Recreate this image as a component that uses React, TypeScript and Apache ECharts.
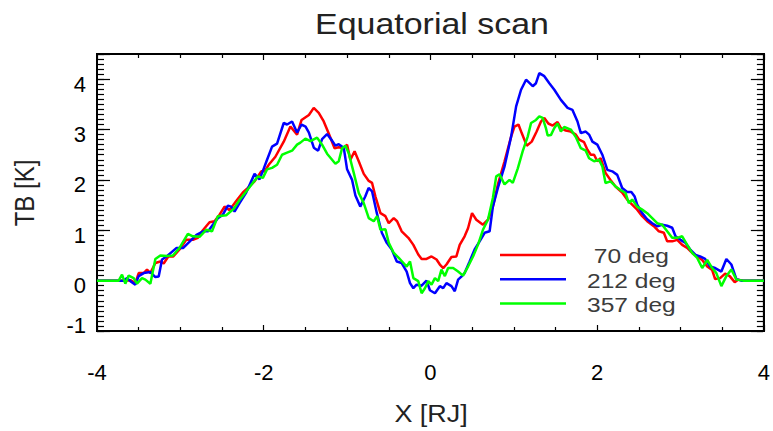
import React, { useEffect, useRef } from 'react';
import * as echarts from 'echarts';

// Brightness temperature along the equatorial scan, [X in RJ, TB in K]
const scan70: number[][] = [
  [-4, 0], [-3.72, 0], [-3.6, 0.01], [-3.54, -0.05], [-3.5, 0.15], [-3.44, 0.15], [-3.4, 0.22], [-3.36, 0.15],
  [-3.3, 0.35], [-3.24, 0.38], [-3.2, 0.34], [-3.145, 0.48], [-3.085, 0.48], [-3.01, 0.62], [-2.93, 0.81],
  [-2.85, 0.81], [-2.79, 0.85], [-2.73, 1.0], [-2.65, 1.16], [-2.59, 1.18], [-2.53, 1.31], [-2.47, 1.47],
  [-2.41, 1.4], [-2.33, 1.58], [-2.25, 1.75], [-2.19, 1.84], [-2.11, 1.97], [-2.03, 2.17], [-1.99, 2.17],
  [-1.94, 2.3], [-1.86, 2.46], [-1.76, 2.76], [-1.68, 3.06], [-1.6, 2.9], [-1.546, 3.19], [-1.458, 3.29],
  [-1.4, 3.43], [-1.34, 3.33], [-1.28, 3.16], [-1.22, 2.92], [-1.15, 2.63], [-1.1, 2.65], [-1.04, 2.63],
  [-1.0, 2.7], [-0.96, 2.4], [-0.91, 2.57], [-0.86, 2.37], [-0.8, 2.12], [-0.74, 1.98], [-0.7, 1.94],
  [-0.66, 1.67], [-0.6, 1.34], [-0.54, 1.28], [-0.5, 1.14], [-0.44, 1.24], [-0.4, 1.18], [-0.345, 0.98],
  [-0.265, 0.85], [-0.205, 0.71], [-0.146, 0.52], [-0.106, 0.43], [-0.047, 0.43], [0.013, 0.48], [0.073, 0.42],
  [0.113, 0.32], [0.153, 0.25], [0.192, 0.32], [0.252, 0.47], [0.311, 0.48], [0.351, 0.71], [0.41, 0.88],
  [0.451, 1.04], [0.499, 1.34], [0.55, 1.21], [0.63, 1.11], [0.69, 1.21], [0.749, 1.47], [0.809, 1.91],
  [0.889, 2.37], [0.968, 2.86], [1.008, 3.06], [1.056, 3.1], [1.095, 2.93], [1.155, 2.68], [1.215, 2.76],
  [1.274, 2.96], [1.326, 3.16], [1.366, 3.23], [1.414, 3.12], [1.466, 3.08], [1.525, 3.15], [1.565, 3.03],
  [1.624, 2.98], [1.684, 2.96], [1.744, 2.9], [1.784, 2.8], [1.843, 2.75], [1.883, 2.6], [1.923, 2.5],
  [1.963, 2.5], [2.002, 2.37], [2.042, 2.43], [2.1, 2.14], [2.16, 2.0], [2.22, 1.87], [2.3, 1.75], [2.36, 1.61],
  [2.42, 1.51], [2.48, 1.41], [2.54, 1.28], [2.6, 1.18], [2.68, 1.08], [2.74, 0.98], [2.8, 0.95], [2.84, 0.78],
  [2.9, 0.78], [2.96, 0.81], [3.02, 0.71], [3.08, 0.65], [3.14, 0.55], [3.2, 0.48], [3.26, 0.41], [3.32, 0.28],
  [3.38, 0.21], [3.415, 0.03], [3.475, 0.05], [3.535, 0.14], [3.59, 0.09], [3.65, -0.03], [3.69, 0.02],
  [3.75, 0], [4, 0],
];

const scan212: number[][] = [
  [-4, 0], [-3.68, 0], [-3.64, 0.05], [-3.6, -0.01], [-3.54, -0.08], [-3.5, 0.09], [-3.44, 0.15], [-3.36, 0.17],
  [-3.3, 0.07], [-3.26, 0.08], [-3.22, 0.42], [-3.165, 0.48], [-3.045, 0.65], [-2.965, 0.65], [-2.886, 0.78],
  [-2.807, 0.91], [-2.727, 0.98], [-2.667, 0.98], [-2.61, 1.11], [-2.55, 1.24], [-2.49, 1.31], [-2.43, 1.49],
  [-2.39, 1.47], [-2.35, 1.37], [-2.29, 1.54], [-2.21, 1.75], [-2.11, 2.12], [-2.05, 2.01], [-2.01, 2.18],
  [-1.96, 2.4], [-1.9, 2.66], [-1.84, 2.72], [-1.76, 3.13], [-1.72, 3.1], [-1.66, 3.16], [-1.6, 2.94],
  [-1.546, 3.1], [-1.498, 3.06], [-1.458, 2.94], [-1.399, 2.64], [-1.347, 2.58], [-1.3, 2.81], [-1.24, 2.91],
  [-1.18, 2.78], [-1.14, 2.68], [-1.1, 2.71], [-1.04, 2.64], [-1.0, 2.21], [-0.94, 2.0], [-0.9, 1.69],
  [-0.842, 1.47], [-0.782, 1.67], [-0.742, 1.84], [-0.7, 1.77], [-0.643, 1.34], [-0.583, 0.95], [-0.524, 0.75],
  [-0.464, 0.62], [-0.404, 0.38], [-0.345, 0.35], [-0.285, 0.18], [-0.245, -0.05], [-0.205, -0.15],
  [-0.166, -0.08], [-0.106, -0.1], [-0.047, 0.0], [-0.006, -0.19], [0.054, -0.25], [0.113, -0.11],
  [0.153, -0.15], [0.192, -0.05], [0.252, -0.11], [0.292, -0.21], [0.332, 0.02], [0.371, 0.08], [0.41, 0.15],
  [0.47, 0.38], [0.53, 0.62], [0.59, 0.78], [0.65, 0.95], [0.71, 0.98], [0.749, 1.47], [0.809, 1.84],
  [0.889, 2.27], [0.968, 2.86], [1.028, 3.46], [1.087, 3.79], [1.147, 3.99], [1.227, 3.86], [1.266, 3.92],
  [1.306, 4.12], [1.366, 4.06], [1.426, 3.92], [1.486, 3.79], [1.565, 3.59], [1.645, 3.43], [1.704, 3.39],
  [1.764, 3.16], [1.804, 2.93], [1.863, 2.96], [1.903, 2.9], [1.943, 2.76], [2.002, 2.7], [2.062, 2.5],
  [2.122, 2.2], [2.181, 2.17], [2.241, 2.1], [2.3, 1.84], [2.36, 1.76], [2.41, 1.76], [2.45, 1.67],
  [2.48, 1.51], [2.54, 1.34], [2.6, 1.22], [2.66, 1.14], [2.72, 1.08], [2.78, 1.11], [2.84, 1.09],
  [2.9, 1.05], [2.94, 0.88], [3.0, 0.81], [3.06, 0.75], [3.12, 0.61], [3.18, 0.51], [3.235, 0.48],
  [3.295, 0.43], [3.355, 0.28], [3.415, 0.25], [3.49, 0.18], [3.55, 0.43], [3.61, 0.32], [3.67, 0.03],
  [3.73, 0], [4, 0],
];

const scan357: number[][] = [
  [-4, 0], [-3.74, 0], [-3.7, 0.12], [-3.66, -0.06], [-3.62, 0.1], [-3.56, 0.05], [-3.52, -0.06], [-3.46, 0.05],
  [-3.42, 0.02], [-3.36, -0.06], [-3.3, 0.43], [-3.24, 0.5], [-3.16, 0.49], [-3.09, 0.5], [-3.01, 0.65],
  [-2.91, 0.93], [-2.85, 0.88], [-2.77, 0.87], [-2.69, 1.01], [-2.62, 0.98], [-2.55, 1.28], [-2.45, 1.3],
  [-2.37, 1.41], [-2.35, 1.45], [-2.29, 1.6], [-2.21, 1.77], [-2.15, 1.9], [-2.07, 2.07], [-2.01, 2.04],
  [-1.96, 2.21], [-1.9, 2.24], [-1.84, 2.3], [-1.78, 2.5], [-1.72, 2.54], [-1.66, 2.58], [-1.6, 2.7],
  [-1.56, 2.74], [-1.5, 2.82], [-1.44, 2.77], [-1.36, 2.84], [-1.3, 2.7], [-1.24, 2.52], [-1.18, 2.4],
  [-1.14, 2.32], [-1.1, 2.37], [-1.06, 2.63], [-1.02, 2.68], [-0.98, 2.53], [-0.92, 2.14], [-0.86, 1.74],
  [-0.8, 1.54], [-0.74, 1.24], [-0.68, 1.18], [-0.64, 1.28], [-0.6, 1.01], [-0.54, 1.02], [-0.5, 0.75],
  [-0.44, 0.55], [-0.38, 0.45], [-0.34, 0.38], [-0.285, 0.28], [-0.245, 0.38], [-0.205, 0.05], [-0.146, -0.01],
  [-0.106, -0.25], [-0.066, -0.15], [-0.026, -0.01], [0.013, -0.08], [0.054, 0.05], [0.093, -0.01],
  [0.132, 0.22], [0.173, 0.09], [0.212, 0.25], [0.272, 0.25], [0.332, 0.18], [0.391, 0.1], [0.451, 0.28],
  [0.511, 0.48], [0.57, 0.71], [0.63, 1.01], [0.69, 1.21], [0.749, 1.64], [0.789, 2.07], [0.829, 2.11],
  [0.889, 1.91], [0.948, 2.0], [0.988, 1.94], [1.048, 2.23], [1.107, 2.57], [1.167, 2.86], [1.207, 3.13],
  [1.266, 3.19], [1.306, 3.26], [1.346, 3.23], [1.385, 3.03], [1.406, 2.88], [1.445, 2.89], [1.486, 3.03],
  [1.525, 3.12], [1.565, 2.96], [1.605, 3.05], [1.684, 3.0], [1.744, 2.85], [1.804, 2.63], [1.863, 2.58],
  [1.903, 2.43], [1.963, 2.37], [2.022, 2.4], [2.062, 2.27], [2.1, 1.94], [2.16, 1.97], [2.22, 1.87],
  [2.28, 1.8], [2.34, 1.74], [2.38, 1.54], [2.42, 1.61], [2.48, 1.47], [2.54, 1.41], [2.6, 1.34], [2.66, 1.24],
  [2.72, 1.14], [2.78, 1.11], [2.84, 0.98], [2.9, 0.85], [2.96, 0.85], [3.02, 0.88], [3.08, 0.71], [3.14, 0.55],
  [3.2, 0.45], [3.26, 0.25], [3.32, 0.41], [3.38, 0.25], [3.43, 0.15], [3.49, -0.11], [3.55, 0.09], [3.61, 0.22],
  [3.67, 0.02], [3.75, 0], [4, 0],
];

const legendNames = [' 70 deg', '212 deg', '357 deg'];
const lineColors = ['#ff0000', '#0000ff', '#00ff00'];
const seriesData = [scan70, scan212, scan357];

const X_MIN = -4;
const X_MAX = 4;
const X_STEP = 2;
const Y_MIN = -1;
const Y_MAX = 4.5;
const Y_STEP = 1;

const FONT = 'Liberation Sans';
const STRETCH = 1.17;

function buildOption() {
  const grid = {
    left: 97,
    right: 6,
    top: 54,
    bottom: 100,
    show: true,
    borderColor: '#000',
    borderWidth: 2,
    backgroundColor: 'transparent',
  };
  const tickStyle = { color: '#000', width: 1.2 };
  const axisLineStyle = { color: '#000', width: 2 };

  const xBase = {
    type: 'value' as const,
    min: X_MIN,
    max: X_MAX,
    interval: X_STEP,
    splitLine: { show: false },
    axisLine: { show: true, onZero: false, lineStyle: axisLineStyle },
    axisTick: { show: true, inside: true, length: 6, lineStyle: tickStyle },
    minorTick: { show: true, splitNumber: 4, length: 4, lineStyle: tickStyle },
  };

  const yMajor = {
    type: 'value' as const,
    min: Y_MIN,
    max: Y_MAX,
    interval: Y_STEP,
    splitLine: { show: false },
    axisLine: { show: true, onZero: false, lineStyle: axisLineStyle },
    axisTick: { show: true, inside: true, length: 13, lineStyle: tickStyle },
  };

  const yMinor = {
    type: 'value' as const,
    min: Y_MIN,
    max: Y_MAX,
    interval: 0.1,
    splitLine: { show: false },
    axisLine: { show: false, onZero: false },
    axisLabel: { show: false },
    axisTick: { show: true, inside: true, length: 7, lineStyle: tickStyle },
  };

  const legendGraphics: any[] = [];
  legendNames.forEach((name, i) => {
    const y = 255 + i * 24.3;
    legendGraphics.push({
      type: 'line',
      shape: { x1: 500, y1: y, x2: 566, y2: y },
      style: { stroke: lineColors[i], lineWidth: 2.5 },
      z: 10,
    });
    legendGraphics.push({
      type: 'text',
      x: 587,
      y: y + 1,
      scaleX: STRETCH,
      style: {
        text: name,
        fontFamily: FONT,
        fontSize: 21,
        fill: '#3c3c3c',
        align: 'left',
        verticalAlign: 'middle',
      },
      z: 10,
    });
  });

  return {
    animation: false,
    backgroundColor: '#ffffff',
    grid,
    xAxis: [
      {
        ...xBase,
        position: 'bottom',
        axisLabel: {
          show: true,
          margin: 30,
          fontFamily: FONT,
          fontSize: 22,
          color: '#000',
        },
      },
      {
        ...xBase,
        position: 'top',
        axisLabel: { show: false },
      },
    ],
    yAxis: [
      {
        ...yMajor,
        position: 'left',
        axisLabel: {
          show: true,
          margin: 11,
          fontFamily: FONT,
          fontSize: 22,
          color: '#000',
          formatter: (v: number) => {
            if (!Number.isInteger(v) || v > 4) return '';
            return v === -1 ? '{up|-1}' : '{dn|' + v + '}';
          },
          rich: {
            up: { fontFamily: FONT, fontSize: 22, color: '#000', padding: [0, 0, 12, 0] },
            dn: { fontFamily: FONT, fontSize: 22, color: '#000', padding: [10, 0, 0, 0] },
          },
        },
      },
      { ...yMajor, position: 'right', axisLabel: { show: false } },
      { ...yMinor, position: 'left' },
      { ...yMinor, position: 'right' },
    ],
    series: seriesData.map((data, i) => ({
      name: legendNames[i],
      type: 'line',
      xAxisIndex: 0,
      yAxisIndex: 0,
      data,
      showSymbol: false,
      symbol: 'none',
      lineStyle: { color: lineColors[i], width: 2.5 },
      itemStyle: { color: lineColors[i] },
      z: 3 + i,
    })),
    graphic: [
      {
        type: 'text',
        x: 432,
        y: 24,
        scaleX: STRETCH,
        style: {
          text: 'Equatorial scan',
          fontFamily: FONT,
          fontSize: 29,
          fill: '#222',
          align: 'center',
          verticalAlign: 'middle',
        },
      },
      {
        type: 'text',
        x: 431,
        y: 414,
        scaleX: STRETCH,
        style: {
          text: 'X [RJ]',
          fontFamily: FONT,
          fontSize: 23,
          fill: '#222',
          align: 'center',
          verticalAlign: 'middle',
        },
      },
      {
        type: 'text',
        x: 24,
        y: 193,
        rotation: Math.PI / 2,
        scaleY: STRETCH,
        style: {
          text: 'TB [K]',
          fontFamily: FONT,
          fontSize: 24,
          fill: '#222',
          align: 'center',
          verticalAlign: 'middle',
        },
      },
      ...legendGraphics,
    ],
  };
}

export default function App() {
  const ref = useRef<HTMLDivElement>(null);

  useEffect(() => {
    document.body.style.margin = '0';
    if (!ref.current) return;
    const chart = echarts.init(ref.current, null, { renderer: 'svg' });
    chart.setOption(buildOption() as any);
    return () => {
      chart.dispose();
    };
  }, []);

  return <div ref={ref} style={{ width: 773, height: 431 }} />;
}
